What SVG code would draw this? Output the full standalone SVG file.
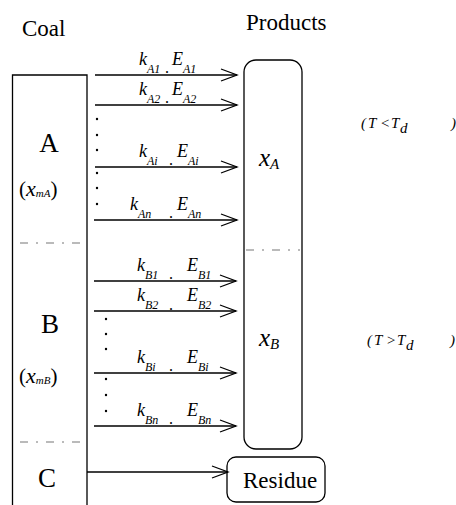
<svg xmlns="http://www.w3.org/2000/svg" width="456" height="505" viewBox="0 0 456 505">
<defs>
<style>
.i{font-style:italic}
.ln{stroke:#000;stroke-width:1.3;fill:none}
.dd{stroke:#777;stroke-width:1.2;stroke-dasharray:8 8 2 8;fill:none}
.dot{fill:#000}
</style>
<marker id="ah" markerWidth="20" markerHeight="16" refX="17" refY="8" orient="auto" markerUnits="userSpaceOnUse">
<path d="M1,2 L17,8 L1,14" fill="none" stroke="#000" stroke-width="1.3"/>
</marker>
</defs>
<rect width="456" height="505" fill="#fff"/>
<g font-family="Liberation Serif, Times New Roman, serif" fill="#000">
<text x="22" y="36" font-size="23">Coal</text>
<text x="246" y="30" font-size="23">Products</text>

<g id="coal">
<path class="ln" d="M12.5,506 V75 H87 V506"/>
<line class="dd" x1="20" y1="243" x2="84" y2="243"/>
<line class="dd" x1="20" y1="442" x2="84" y2="442"/>
<text x="49" y="152" font-size="27" text-anchor="middle">A</text>
<text x="19" y="196" font-size="21">(<tspan class="i" font-size="22">x</tspan><tspan class="i" font-size="11" dy="1">mA</tspan><tspan dy="-1">)</tspan></text>
<text x="50" y="333" font-size="27" text-anchor="middle">B</text>
<text x="19" y="383" font-size="21">(<tspan class="i" font-size="22">x</tspan><tspan class="i" font-size="11" dy="1">mB</tspan><tspan dy="-1">)</tspan></text>
<text x="47" y="487" font-size="27" text-anchor="middle">C</text>
</g>

<g id="products">
<rect class="ln" x="244" y="60" width="58" height="389" rx="12"/>
<line class="dd" x1="246" y1="250" x2="300" y2="250"/>
<text class="i" x="259" y="166" font-size="25">x<tspan font-size="15" dy="3">A</tspan></text>
<text class="i" x="259" y="346" font-size="25">x<tspan font-size="15" dy="3">B</tspan></text>
</g>

<g id="residue">
<rect class="ln" x="227" y="457" width="98" height="45" rx="9"/>
<text x="243" y="488" font-size="23">Residue</text>
</g>

<g id="conditions">
<text class="i" y="128" font-size="15"><tspan x="361">(</tspan><tspan x="368">T</tspan><tspan x="380">&lt;</tspan><tspan x="391">T</tspan><tspan x="400" dy="5">d</tspan><tspan x="451" dy="-5">)</tspan></text>
<text class="i" y="345" font-size="15"><tspan x="367">(</tspan><tspan x="374">T</tspan><tspan x="386">&gt;</tspan><tspan x="397">T</tspan><tspan x="406" dy="5">d</tspan><tspan x="450" dy="-5">)</tspan></text>
</g>

<g id="connectors">
<line class="ln" x1="95" y1="75" x2="237" y2="75" marker-end="url(#ah)"/>
<line class="ln" x1="95" y1="105" x2="237" y2="105" marker-end="url(#ah)"/>
<line class="ln" x1="95" y1="167" x2="237" y2="167" marker-end="url(#ah)"/>
<line class="ln" x1="94" y1="220" x2="237" y2="220" marker-end="url(#ah)"/>
<line class="ln" x1="94" y1="281" x2="236" y2="281" marker-end="url(#ah)"/>
<line class="ln" x1="94" y1="311" x2="236" y2="311" marker-end="url(#ah)"/>
<line class="ln" x1="94" y1="373" x2="236" y2="373" marker-end="url(#ah)"/>
<line class="ln" x1="94" y1="426" x2="236" y2="426" marker-end="url(#ah)"/>
<line class="ln" x1="87" y1="472" x2="228" y2="472" marker-end="url(#ah)"/>
</g>

<g id="dots">
<circle class="dot" cx="97" cy="119" r="1.2"/>
<circle class="dot" cx="97" cy="135" r="1.2"/>
<circle class="dot" cx="97" cy="150" r="1.2"/>
<circle class="dot" cx="97" cy="173" r="1.2"/>
<circle class="dot" cx="97" cy="188" r="1.2"/>
<circle class="dot" cx="97" cy="204" r="1.2"/>
<circle class="dot" cx="106" cy="319" r="1.2"/>
<circle class="dot" cx="106" cy="334" r="1.2"/>
<circle class="dot" cx="106" cy="349" r="1.2"/>
<circle class="dot" cx="106" cy="379" r="1.2"/>
<circle class="dot" cx="106" cy="395" r="1.2"/>
<circle class="dot" cx="106" cy="411" r="1.2"/>
</g>

<g id="labels">
<text class="i" x="139" y="65" font-size="18">k<tspan font-size="12" dy="8">A1</tspan></text>
<text x="165" y="73" font-size="16">.</text>
<text class="i" x="172" y="65" font-size="18">E<tspan font-size="12" dy="8">A1</tspan></text>

<text class="i" x="139" y="95" font-size="18">k<tspan font-size="12" dy="8">A2</tspan></text>
<text x="165" y="103" font-size="16">.</text>
<text class="i" x="172" y="95" font-size="18">E<tspan font-size="12" dy="8">A2</tspan></text>

<text class="i" x="139" y="157" font-size="18">k<tspan font-size="12" dy="8">Ai</tspan></text>
<text x="169" y="165" font-size="16">.</text>
<text class="i" x="177" y="157" font-size="18">E<tspan font-size="12" dy="8">Ai</tspan></text>

<text class="i" x="130" y="210" font-size="18">k<tspan font-size="12" dy="8">An</tspan></text>
<text x="169" y="218" font-size="16">.</text>
<text class="i" x="177" y="210" font-size="18">E<tspan font-size="12" dy="8">An</tspan></text>

<text class="i" x="137" y="271" font-size="18">k<tspan font-size="12" dy="8">B1</tspan></text>
<text x="169" y="279" font-size="16">.</text>
<text class="i" x="187" y="271" font-size="18">E<tspan font-size="12" dy="8">B1</tspan></text>

<text class="i" x="137" y="301" font-size="18">k<tspan font-size="12" dy="8">B2</tspan></text>
<text x="169" y="310" font-size="16">.</text>
<text class="i" x="187" y="301" font-size="18">E<tspan font-size="12" dy="8">B2</tspan></text>

<text class="i" x="137" y="363" font-size="18">k<tspan font-size="12" dy="8">Bi</tspan></text>
<text x="169" y="371" font-size="16">.</text>
<text class="i" x="187" y="363" font-size="18">E<tspan font-size="12" dy="8">Bi</tspan></text>

<text class="i" x="137" y="416" font-size="18">k<tspan font-size="12" dy="8">Bn</tspan></text>
<text x="169" y="424" font-size="16">.</text>
<text class="i" x="187" y="416" font-size="18">E<tspan font-size="12" dy="8">Bn</tspan></text>
</g>
</g>
</svg>
